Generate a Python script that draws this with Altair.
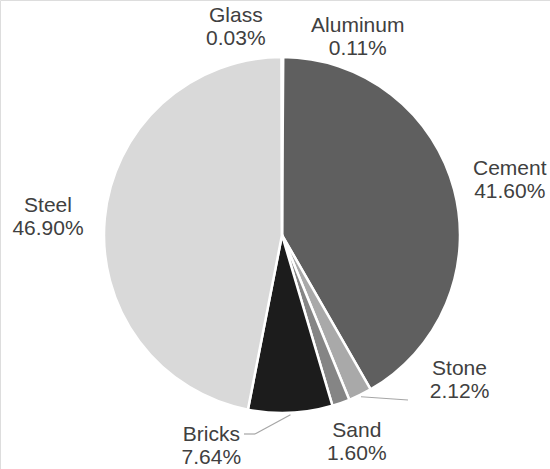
import math
import altair as alt
import pandas as pd

# ---- data ----
materials = ["Aluminum", "Cement", "Stone", "Sand", "Bricks", "Steel", "Glass"]
shares = [0.11, 41.60, 2.12, 1.60, 7.64, 46.90, 0.03]
colors = ["#8a8a8a", "#5f5f5f", "#a9a9a9", "#858585", "#1c1c1c", "#d9d9d9", "#bdbdbd"]

# ---- layout / styling (not data) ----
CX, CY, R = 282, 235, 178
LABEL_R = 220
LINE_GAP = 23
# nudges (px) applied to each label's first-line baseline from its slice-angle position
nudge = {
    "Aluminum": (75, 17), "Cement": (15, -4), "Stone": (81, -58), "Sand": (2, -6),
    "Bricks": (-81, -14), "Steel": (-15, -2), "Glass": (-46, 7),
}

df = pd.DataFrame({"material": materials, "share": shares, "order": range(len(materials))})
total = df["share"].sum()
cum = df["share"].cumsum()
mid = (cum - df["share"] / 2) / total * 2 * math.pi
df["lx"] = [CX + LABEL_R * math.sin(a) + nudge[m][0] for a, m in zip(mid, materials)]
df["name_y"] = [CY - LABEL_R * math.cos(a) + nudge[m][1] for a, m in zip(mid, materials)]
df["pct_y"] = df["name_y"] + LINE_GAP
df["pct"] = [f"{v:.2f}%" for v in shares]

color_scale = alt.Scale(domain=materials, range=colors)

pie = alt.Chart(df).mark_arc(outerRadius=R, stroke="white", strokeWidth=2.5).encode(
    theta=alt.Theta("share:Q", stack=True),
    order=alt.Order("order:Q"),
    color=alt.Color("material:N", scale=color_scale, legend=None),
    x=alt.value(CX),
    y=alt.value(CY),
)

text_style = dict(font="Liberation Sans", fontSize=21, color="#404040", align="center", baseline="alphabetic")
names = alt.Chart(df).mark_text(**text_style).encode(
    x=alt.X("lx:Q", scale=None), y=alt.Y("name_y:Q", scale=None), text="material:N"
)
pcts = alt.Chart(df).mark_text(**text_style).encode(
    x=alt.X("lx:Q", scale=None), y=alt.Y("pct_y:Q", scale=None), text="pct:N"
)

# leader lines for displaced labels, starting at slice edge midpoints
lead_rows = []
for m, a in zip(materials, mid):
    x0, y0 = CX + (R + 2) * math.sin(a), CY - (R + 2) * math.cos(a)
    if m == "Stone":
        lead_rows.append({"seg": m, "x": x0, "y": y0, "x2": 408, "y2": 400})
    if m == "Bricks":
        lead_rows.append({"seg": m + "a", "x": x0, "y": y0, "x2": 255, "y2": 434})
        lead_rows.append({"seg": m + "b", "x": 255, "y": 434, "x2": 244, "y2": 434})
leaders = alt.Chart(pd.DataFrame(lead_rows)).mark_rule(color="#a6a6a6", strokeWidth=1.2).encode(
    x=alt.X("x:Q", scale=None), y=alt.Y("y:Q", scale=None),
    x2="x2:Q", y2="y2:Q",
)

chart = alt.layer(pie, leaders, names, pcts).properties(
    width=550, height=469, padding=0, autosize="none"
).configure_view(stroke=None).configure(background="white")

chart.save("out.html", embed_options={"renderer": "svg", "actions": False})
